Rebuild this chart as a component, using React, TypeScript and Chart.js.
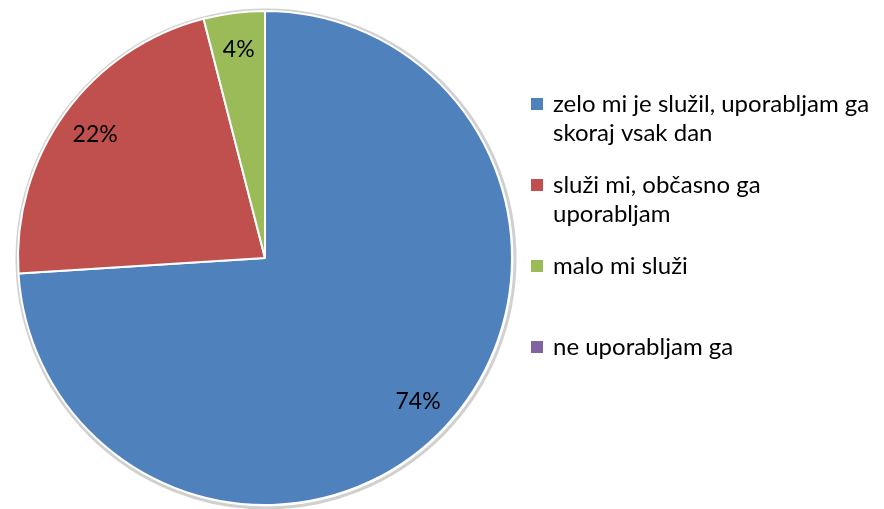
import React, { useEffect, useRef } from "react";
import { Chart, registerables } from "chart.js";

Chart.register(...registerables);

const categories = [
  "zelo mi je služil, uporabljam ga skoraj vsak dan",
  "služi mi, občasno ga uporabljam",
  "malo mi služi",
  "ne uporabljam ga",
];
const legendLines = [
  ["zelo mi je služil, uporabljam ga", "skoraj vsak dan"],
  ["služi mi, občasno ga", "uporabljam"],
  ["malo mi služi"],
  ["ne uporabljam ga"],
];
const values = [74, 22, 4, 0];
const valueLabels = ["74%", "22%", "4%", ""];
const colors = ["#4F81BD", "#C0504D", "#9BBB59", "#8064A2"];

const FONT = "Lato, 'Open Sans', sans-serif";

const outlinePlugin = {
  id: "outline",
  beforeDatasetsDraw(chart: any) {
    const meta = chart.getDatasetMeta(0);
    const arc = meta.data[0];
    if (!arc) return;
    const { x, y, outerRadius } = arc.getProps(["x", "y", "outerRadius"], true);
    const ctx = chart.ctx;
    ctx.save();
    ctx.beginPath();
    ctx.arc(x + 1, y + 1, outerRadius + 2, 0, Math.PI * 2);
    ctx.strokeStyle = "rgba(170,170,170,0.55)";
    ctx.lineWidth = 3;
    ctx.stroke();
    ctx.restore();
  },
};

const labelPlugin = {
  id: "valueLabels",
  afterDatasetsDraw(chart: any) {
    const meta = chart.getDatasetMeta(0);
    const ctx = chart.ctx;
    ctx.save();
    ctx.font = `23px ${FONT}`;
    ctx.fillStyle = "#000";
    ctx.textAlign = "center";
    ctx.textBaseline = "middle";
    meta.data.forEach((arc: any, i: number) => {
      if (!valueLabels[i]) return;
      const { x, y, startAngle, endAngle, outerRadius } = arc.getProps(
        ["x", "y", "startAngle", "endAngle", "outerRadius"],
        true
      );
      const mid = (startAngle + endAngle) / 2;
      const r = outerRadius * 0.85;
      ctx.fillText(valueLabels[i], x + Math.cos(mid) * r, y + Math.sin(mid) * r);
    });
    ctx.restore();
  },
};

const legendPlugin = {
  id: "customLegend",
  afterDraw(chart: any) {
    const ctx = chart.ctx;
    const left = 531;
    const firstY = 104;
    const slot = 81;
    const lineH = 29;
    ctx.save();
    ctx.font = `24px ${FONT}`;
    ctx.textBaseline = "middle";
    ctx.textAlign = "left";
    legendLines.forEach((lines, i) => {
      const y0 = firstY + i * slot;
      ctx.fillStyle = colors[i];
      ctx.fillRect(left, y0 - 6, 12, 12);
      ctx.fillStyle = "#000";
      lines.forEach((ln, j) => {
        ctx.fillText(ln, left + 22, y0 + j * lineH);
      });
    });
    ctx.restore();
  },
};

export default function App() {
  const ref = useRef<HTMLCanvasElement>(null);
  useEffect(() => {
    document.body.style.margin = "0";
    const chart = new Chart(ref.current!, {
      type: "pie",
      data: {
        labels: categories,
        datasets: [
          {
            data: values,
            backgroundColor: colors,
            borderColor: "#ffffff",
            borderWidth: 2,
          },
        ],
      },
      options: {
        animation: false,
        responsive: false,
        layout: { padding: { left: 17, top: 10, right: 371, bottom: 3 } },
        plugins: {
          legend: { display: false },
          tooltip: { enabled: false },
        },
      },
      plugins: [outlinePlugin, labelPlugin, legendPlugin],
    });
    return () => chart.destroy();
  }, []);
  return (
    <div style={{ width: 884, height: 509, background: "#fff" }}>
      <canvas ref={ref} width={884} height={509} />
    </div>
  );
}
